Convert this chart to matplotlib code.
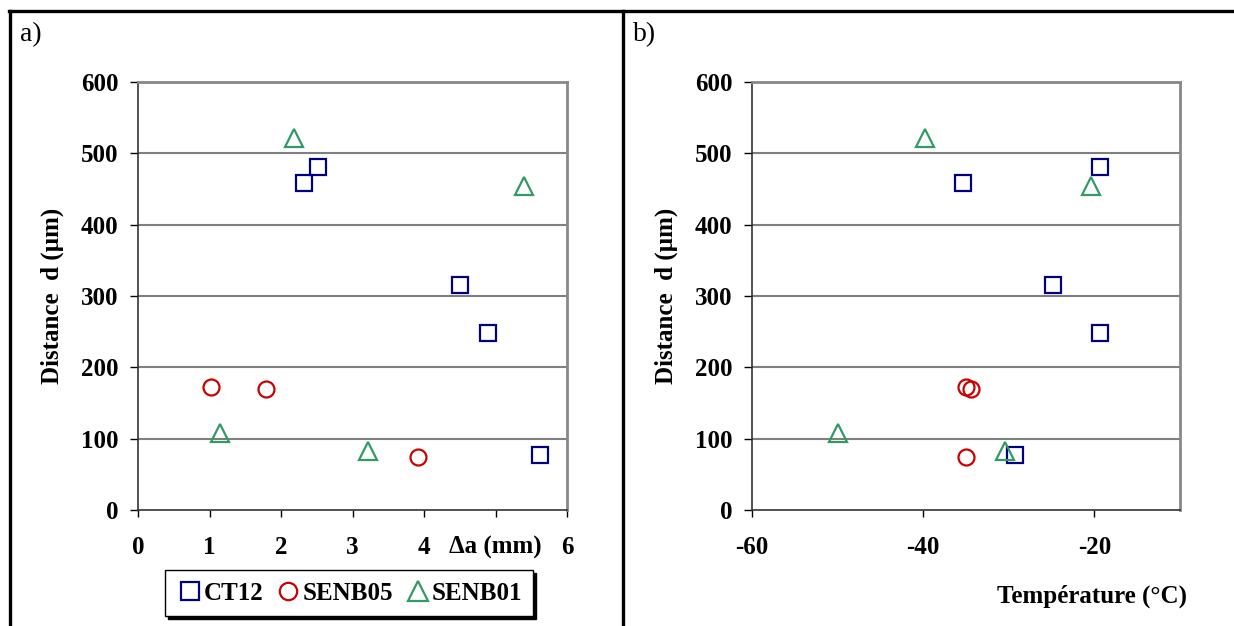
import matplotlib
matplotlib.use("Agg")
import matplotlib.pyplot as plt
from matplotlib.lines import Line2D

plt.rcParams['font.family'] = ['Liberation Serif', 'DejaVu Serif']

# Data
ct12_da = [2.32, 2.52, 4.50, 4.90, 5.62]
ct12_T = [-35.4, -19.4, -24.8, -19.4, -29.3]
ct12_d = [458, 481, 315, 248, 77]

senb05_da = [1.02, 1.79, 3.92]
senb05_T = [-35.0, -34.4, -35.0]
senb05_d = [172, 170, 74]

senb01_da = [2.18, 5.40, 1.15, 3.22]
senb01_T = [-39.8, -20.4, -49.9, -30.5]
senb01_d = [521, 454, 108, 83]

series = [
    ("CT12", ct12_da, ct12_T, ct12_d, 's', '#000080', 12),
    ("SENB05", senb05_da, senb05_T, senb05_d, 'o', '#CC0000', 11.5),
    ("SENB01", senb01_da, senb01_T, senb01_d, '^', '#339966', 13),
]

W, H = 1234, 626
fig = plt.figure(figsize=(W / 100, H / 100), dpi=100)

def px_axes(l, r, t, b):
    return fig.add_axes([l / W, 1 - b / H, (r - l) / W, (b - t) / H])

axa = px_axes(138, 567, 82, 510)
axb = px_axes(752, 1180, 82, 510)

FS = 18
for ax in (axa, axb):
    ax.set_ylim(0, 600)
    ax.set_yticks([0, 100, 200, 300, 400, 500, 600])
    for y in [100, 200, 300, 400, 500]:
        ax.axhline(y, color='#7f7f7f', lw=1.5, zorder=1)
    ax.spines['top'].set_color('#888888')
    ax.spines['right'].set_color('#888888')
    ax.spines['top'].set_linewidth(2)
    ax.spines['right'].set_linewidth(2)
    ax.spines['left'].set_color('#333333')
    ax.spines['bottom'].set_color('#333333')
    ax.spines['left'].set_linewidth(1.2)
    ax.spines['bottom'].set_linewidth(1.2)
    ax.tick_params(axis='y', direction='out', length=6, width=1, pad=8, labelsize=FS)
    ax.tick_params(axis='x', direction='out', length=5, width=1, pad=14, labelsize=FS)
    for lbl in ax.get_yticklabels():
        lbl.set_fontweight('bold')
    ax.set_ylabel('Distance  d (µm)', fontsize=FS, fontweight='bold', va='center')
    ax.yaxis.set_label_coords(-86 / 429, 0.5)

axa.set_xlim(0, 6)
axa.set_xticks([0, 1, 2, 3, 4, 5, 6])
axa.set_xticklabels(['0', '1', '2', '3', '4', 'Δa (mm)', '6'], fontweight='bold', fontsize=FS)

axb.set_xlim(-60, -10)
axb.set_xticks([-60, -40, -20])
axb.set_xticklabels(['-60', '-40', '-20'], fontweight='bold', fontsize=FS)

handles = []
for name, da, T, d, m, c, ms in series:
    axa.plot(da, d, linestyle='none', marker=m, ms=ms, mfc='none', mec=c, mew=1.6, zorder=3)
    axb.plot(T, d, linestyle='none', marker=m, ms=ms, mfc='none', mec=c, mew=1.6, zorder=3)
    handles.append(Line2D([], [], linestyle='none', marker=m, ms=ms + 1, mfc='none', mec=c, mew=1.6, label=name))

fig.text(1092 / W, 1 - 596 / H, 'Température (°C)', fontsize=FS, fontweight='bold', ha='center', va='center')

leg = fig.legend(handles=handles, loc='center', bbox_to_anchor=(349 / W, 1 - 593 / H), ncol=3,
                 frameon=True, fancybox=False, shadow={'color': 'black', 'alpha': 1},
                 edgecolor='black', prop={'weight': 'bold', 'size': FS},
                 handletextpad=0.0, columnspacing=0.45, handlelength=1.1, borderpad=0.45)
leg.get_frame().set_linewidth(1.0)

fig.text(20 / W, 1 - 35 / H, 'a)', fontsize=FS + 2, ha='left', va='center')
fig.text(633 / W, 1 - 35 / H, 'b)', fontsize=FS + 2, ha='left', va='center')

# Outer frame lines
fig.add_artist(Line2D([9 / W, 1], [1 - 11 / H, 1 - 11 / H], color='black', lw=2.4, transform=fig.transFigure))
fig.add_artist(Line2D([9.5 / W, 9.5 / W], [0, 1 - 11 / H], color='black', lw=2.4, transform=fig.transFigure))
fig.add_artist(Line2D([622.5 / W, 622.5 / W], [0, 1 - 11 / H], color='black', lw=2.4, transform=fig.transFigure))

fig.savefig('out.png', dpi=100)
